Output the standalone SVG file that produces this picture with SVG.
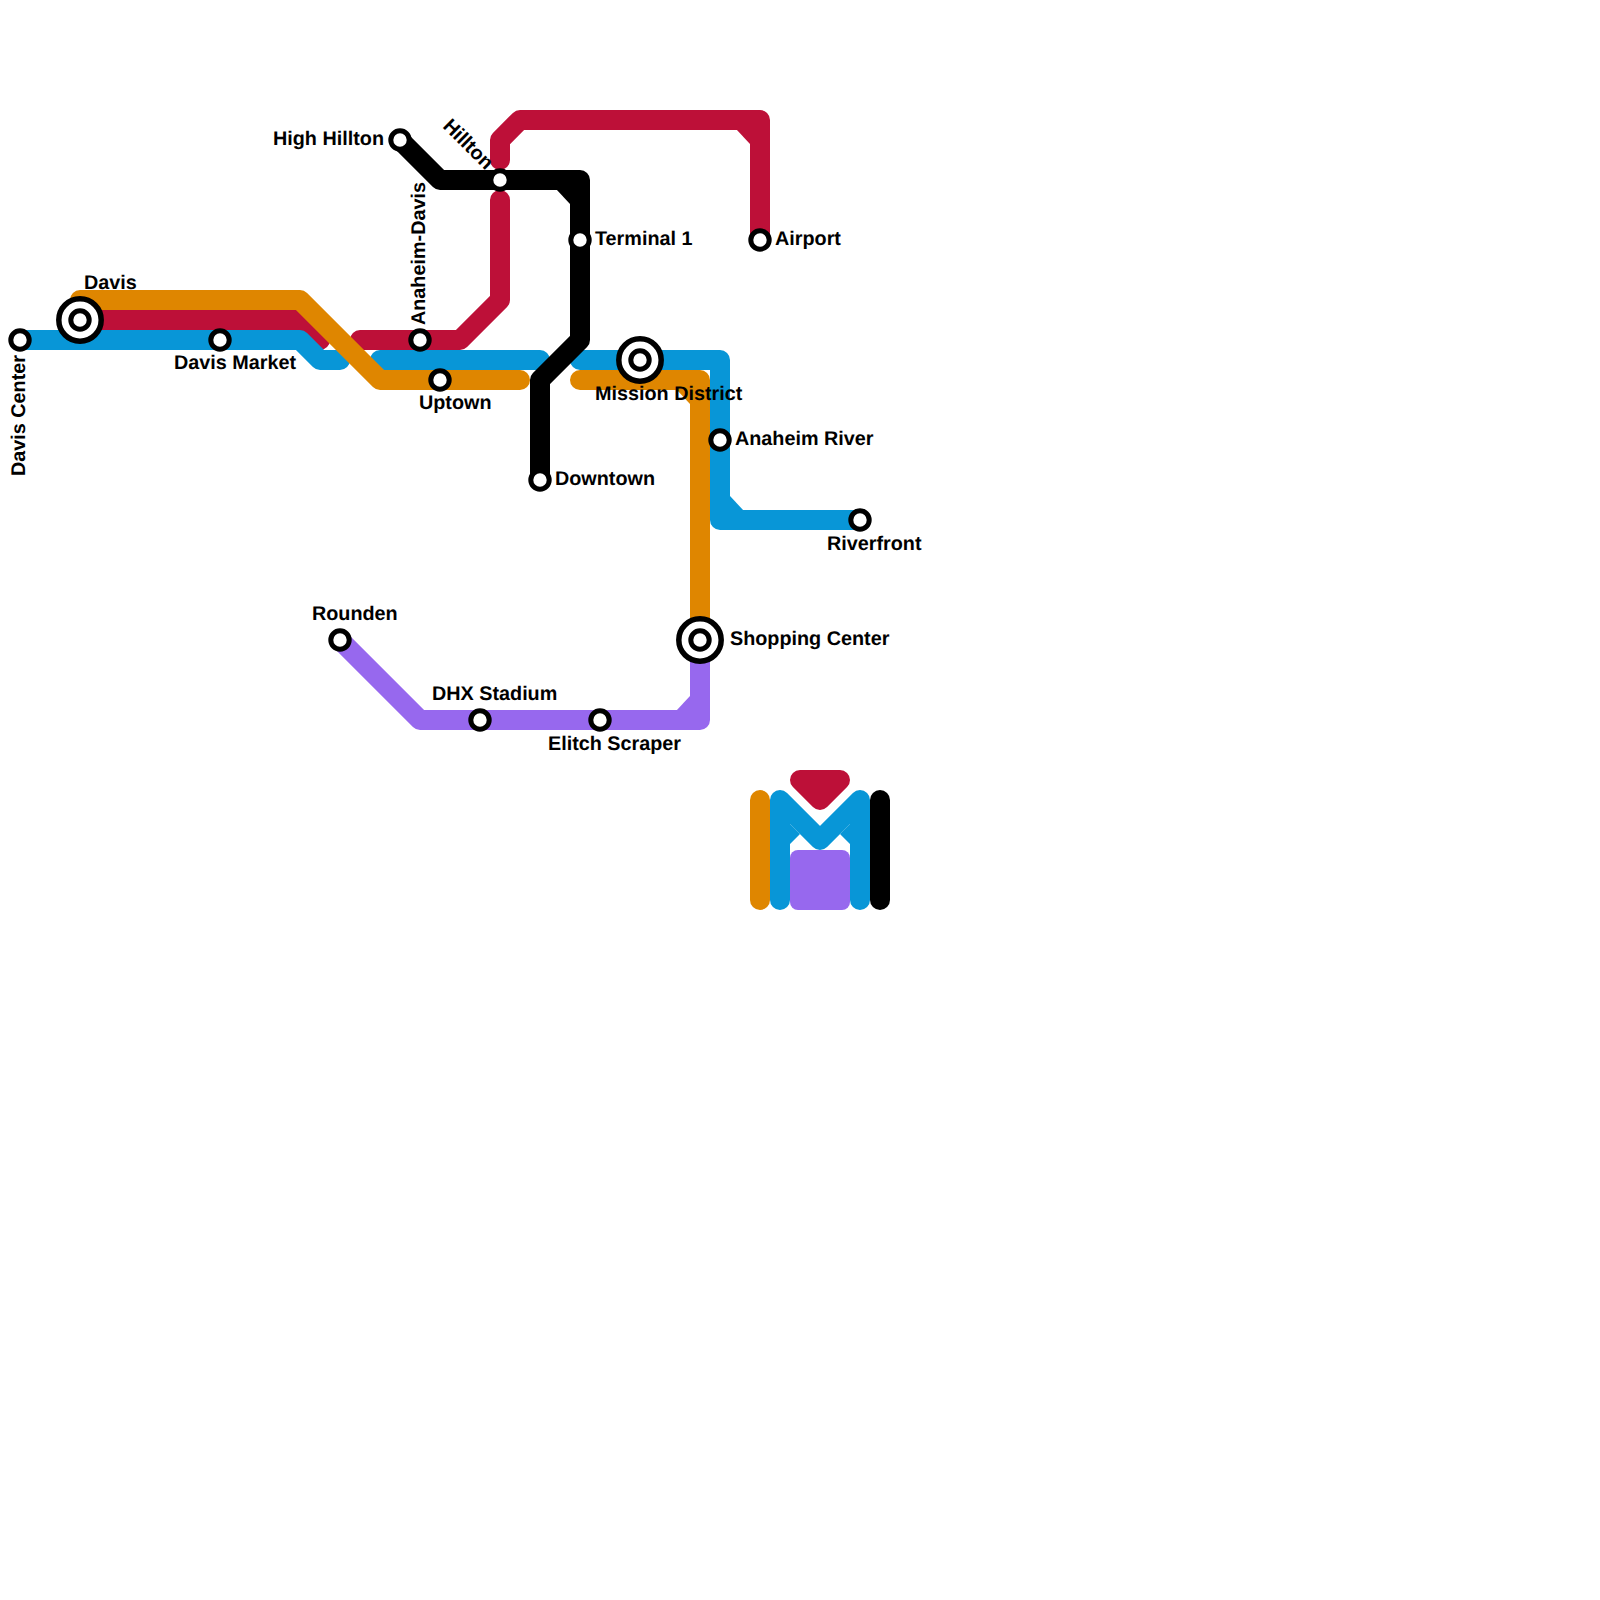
<svg xmlns="http://www.w3.org/2000/svg" width="1600" height="1600" viewBox="0 0 1600 1600">
<style>
.line{fill:none;stroke-width:20;stroke-linecap:round;stroke-linejoin:round}
.red{stroke:#bd1038}.blue{stroke:#0896d7}.orange{stroke:#df8600}.purple{stroke:#9768ee}.black{stroke:#000}
.f-red{fill:#bd1038}.f-blue{fill:#0896d7}.f-orange{fill:#df8600}.f-purple{fill:#9768ee}.f-black{fill:#000}
.ring{fill:#fff;stroke:#000;stroke-width:5}
.outer{fill:#fff;stroke:#000;stroke-width:5.5}
text{font-family:"Liberation Sans",Arial,sans-serif;font-size:19.8px;font-weight:700;fill:#000;text-rendering:geometricPrecision}
</style>
<rect width="1600" height="1600" fill="#fff"/>
<g id="connectors">
<path class="line red" d="M80 320L300 320L320 340"/>
<path class="line red" d="M360 340L460 340L500 300L500 200"/>
<path class="line red" d="M500 160L500 140L520 120L760 120L760 240"/>
<path class="f-red" d="M736 129L751 129L751 144L750 144Z"/>
<path class="line blue" d="M20 340L300 340L320 360L340 360"/>
<path class="line blue" d="M380 360L540 360"/>
<path class="line blue" d="M580 360L720 360L720 520L860 520"/>
<path class="f-blue" d="M744 511L729 511L729 496L730 496Z"/>
<path class="line purple" d="M340 640L420 720L700 720L700 640"/>
<path class="f-purple" d="M676 711L691 711L691 696L690 696Z"/>
<path class="line orange" d="M80 300L300 300L380 380L520 380"/>
<path class="line orange" d="M580 380L700 380L700 640"/>
<path class="f-orange" d="M676 389L691 389L691 404L690 404Z"/>
<path class="line black" d="M400 140L440 180L580 180L580 340L540 380L540 480"/>
<path class="f-black" d="M556 189L571 189L571 204L570 204Z"/>
</g>
<g id="legend">
<path class="line orange" d="M760 800L760 900"/>
<path class="line blue" d="M780 900L780 800L820 840L860 800L860 900"/>
<path class="f-blue" d="M789 823L800 834L790 844L789 844ZM851 823L840 834L850 844L851 844Z"/>
<path class="f-red" d="M800 780L840 780L820 800Z" stroke="#bd1038" stroke-width="20" stroke-linejoin="round"/>
<rect class="f-purple" x="790" y="850" width="60" height="60" rx="8"/>
<path class="line black" d="M880 800L880 900"/>
</g>
<g id="davis-center"><circle class="ring" cx="20" cy="340" r="9.2"/><text transform="translate(25 476) rotate(-90)">Davis Center</text></g>
<g id="davis"><circle class="outer" cx="80" cy="320" r="21.2"/><circle class="ring" cx="80" cy="320" r="9.2"/><text x="84" y="289">Davis</text></g>
<g id="davis-market"><circle class="ring" cx="220" cy="340" r="9.2"/><text x="174" y="369">Davis Market</text></g>
<g id="high-hillton"><circle class="ring" cx="400" cy="140" r="9.2"/><text x="273" y="145">High Hillton</text></g>
<g id="hillton"><circle class="ring" cx="500" cy="180" r="9.2"/><text transform="translate(442 127) rotate(45)">Hillton</text></g>
<g id="anaheim-davis"><circle class="ring" cx="420" cy="340" r="9.2"/><text transform="translate(425 325) rotate(-90)">Anaheim-Davis</text></g>
<g id="uptown"><circle class="ring" cx="440" cy="380" r="9.2"/><text x="419" y="409">Uptown</text></g>
<g id="terminal-1"><circle class="ring" cx="580" cy="240" r="9.2"/><text x="595" y="245">Terminal 1</text></g>
<g id="airport"><circle class="ring" cx="760" cy="240" r="9.2"/><text x="775" y="245">Airport</text></g>
<g id="downtown"><circle class="ring" cx="540" cy="480" r="9.2"/><text x="555" y="485">Downtown</text></g>
<g id="mission-district"><circle class="outer" cx="640" cy="360" r="21.2"/><circle class="ring" cx="640" cy="360" r="9.2"/><text x="595" y="400">Mission District</text></g>
<g id="anaheim-river"><circle class="ring" cx="720" cy="440" r="9.2"/><text x="735" y="445">Anaheim River</text></g>
<g id="riverfront"><circle class="ring" cx="860" cy="520" r="9.2"/><text x="827" y="550">Riverfront</text></g>
<g id="shopping-center"><circle class="outer" cx="700" cy="640" r="21.2"/><circle class="ring" cx="700" cy="640" r="9.2"/><text x="730" y="645">Shopping Center</text></g>
<g id="rounden"><circle class="ring" cx="340" cy="640" r="9.2"/><text x="312" y="620">Rounden</text></g>
<g id="dhx-stadium"><circle class="ring" cx="480" cy="720" r="9.2"/><text x="432" y="700">DHX Stadium</text></g>
<g id="elitch-scraper"><circle class="ring" cx="600" cy="720" r="9.2"/><text x="548" y="750">Elitch Scraper</text></g>
</svg>
